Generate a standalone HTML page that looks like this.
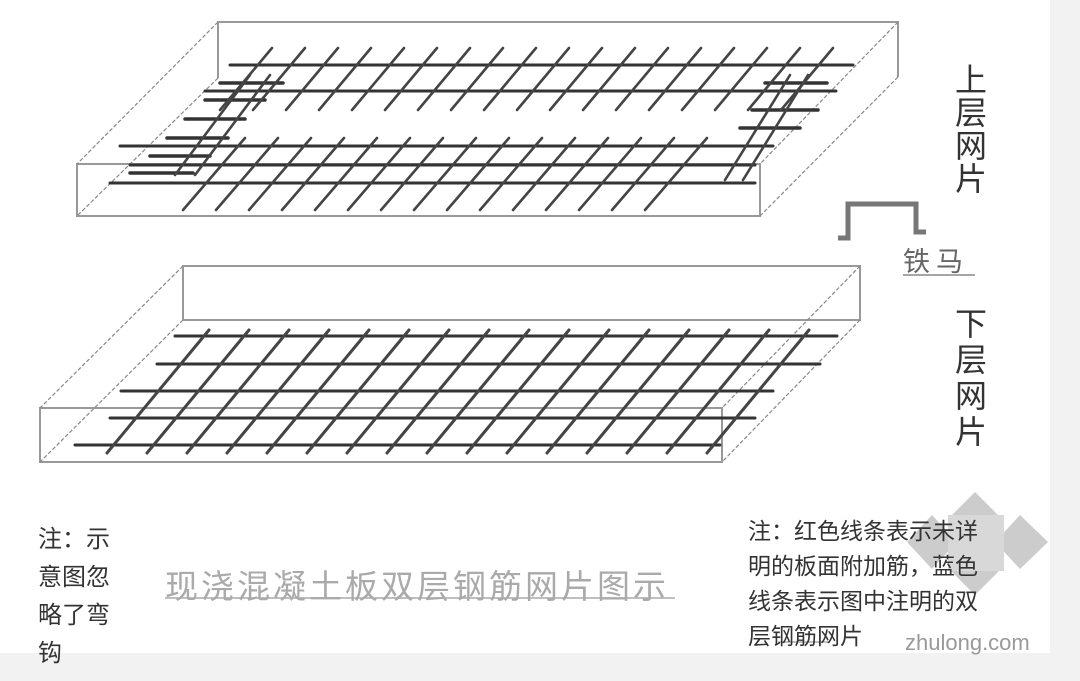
<!DOCTYPE html>
<html><head><meta charset="utf-8"><style>
html,body{margin:0;padding:0;background:#f2f2f2;}
#c{position:relative;width:1080px;height:681px;overflow:hidden;background:#f2f2f2;font-family:"Liberation Sans","Noto Sans CJK SC",sans-serif;}
#w{position:absolute;left:0;top:0;width:1050px;height:653px;background:#fff;}
svg{position:absolute;left:0;top:0;}
.t{position:absolute;color:#333;}
</style></head><body><div id="c"><div id="w"></div>
<svg id="s" width="1080" height="681" viewBox="0 0 1080 681">
<g fill="none" stroke="#999" stroke-width="2">
<polyline points="218,78 218,22 898,22 898,77"/>
<rect x="77" y="164" width="683" height="52"/>
<polyline points="183,320 183,266 860,266 860,320 183,320"/>
<rect x="40" y="408" width="682" height="54"/>
</g>
<g fill="none" stroke="#888" stroke-width="1.2" stroke-dasharray="4,2">
<line x1="218" y1="22" x2="77" y2="164"/><line x1="218" y1="78" x2="77" y2="216"/>
<line x1="898" y1="22" x2="760" y2="164"/><line x1="898" y1="77" x2="760" y2="216"/>
<line x1="183" y1="266" x2="40" y2="408"/><line x1="183" y1="320" x2="40" y2="462"/>
<line x1="860" y1="266" x2="722" y2="408"/><line x1="860" y1="320" x2="722" y2="462"/>
</g>
<g id="bars" stroke="#333" stroke-linecap="round"></g>
<polyline points="838,238 848,238 848,204 916,204 916,232 926,232" fill="none" stroke="#777" stroke-width="5"/>
<line x1="903" y1="275" x2="975" y2="275" stroke="#888" stroke-width="1.5"/>
<line x1="165" y1="598" x2="675" y2="598" stroke="#aaa" stroke-width="1.5"/>
<line x1="778" y1="642" x2="830" y2="642" stroke="#999" stroke-width="1.2"/>
<g fill="#bbb" opacity="0.75">
<polygon points="975,492 1000,517 975,542 950,517"/>
<polygon points="1020,515 1048,542 1020,569 995,542"/>
<polygon points="975,545 1000,570 975,595 950,570"/>
<polygon points="932,515 957,542 932,569 907,542"/>
<rect x="948" y="515" width="56" height="56" fill="#ccc"/>
</g>
</svg>
<div class="t" style="left:955px;top:64px;width:36px;font-size:32px;line-height:33px;">上<br>层<br>网<br>片</div>
<div class="t" style="left:955px;top:306px;width:36px;font-size:32px;line-height:36px;">下<br>层<br>网<br>片</div>
<div class="t" style="left:903px;top:240px;font-size:27px;color:#666;letter-spacing:6px;">铁马</div>
<div class="t" style="left:38px;top:521px;font-size:24px;line-height:38px;">注：示<br>意图忽<br>略了弯<br>钩</div>
<div class="t" style="left:165px;top:560px;font-size:33px;color:#aaa;letter-spacing:3px;">现浇混凝土板双层钢筋网片图示</div>
<div class="t" style="left:748px;top:514px;font-size:23px;line-height:35px;">注：红色线条表示未详<br>明的板面附加筋，蓝色<br>线条表示图中注明的双<br>层钢筋网片</div>
<div class="t" style="left:905px;top:630px;font-size:22px;color:#999;">zhulong.com</div>
</div>
<script>
var g=document.getElementById('bars'),h='';
function L(x1,y1,x2,y2,w,c){h+='<line x1="'+x1+'" y1="'+y1+'" x2="'+x2+'" y2="'+y2+'" stroke-width="'+w+'"'+(c?' stroke="'+c+'"':'')+'/>';}
[[65,230,853],[91,205,836],[146,120,773],[165,130,755],[183,110,755]].forEach(function(a){L(a[1],a[0],a[2],a[0],3);});
[[83,220,283],[100,205,265],[119,185,245],[138,167,228],[156,150,210],[173,130,193],[83,765,827],[110,752,818],[128,740,800]].forEach(function(a){L(a[1],a[0],a[2],a[0],3.5);});
for(var x=272;x<=850;x+=33){L(x,48,x-52,110,2.6,'#444');}
for(var x=245;x<=735;x+=33){L(x,138,x-62,210,2.6,'#444');}
for(var i=0;i<2;i++){L(250+i*20,75,175+i*20,175,2.6,'#444');}
for(var i=0;i<2;i++){L(790+i*18,75,725+i*18,180,2.6,'#444');}
[[336,175,837],[364,157,820],[391,121,773],[418,110,755],[445,75,720]].forEach(function(a){L(a[1],a[0],a[2],a[0],3);});
for(var x=209;x<=820;x+=40){L(x,330,x-102,453,3,'#444');}
g.innerHTML=h;
</script>
</body></html>
